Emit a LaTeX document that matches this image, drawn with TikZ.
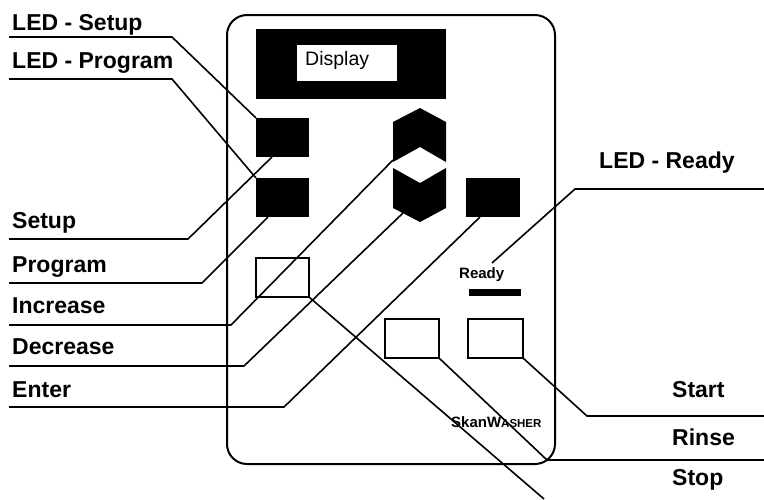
\documentclass[tikz,border=0pt]{standalone}
\usepackage{fontspec}
\setmainfont{Liberation Sans}
\begin{document}
\begin{tikzpicture}[x=1pt,y=-1pt,
  lbl/.style={anchor=base west,inner sep=0pt,font=\bfseries\fontsize{23}{27}\selectfont},
  blk/.style={fill=black,inner sep=0pt,outer sep=0pt,anchor=north west},
  btn/.style={draw,line width=1.6pt,fill=white,inner sep=0pt,outer sep=0pt,anchor=north west},
  wire/.style={line width=1.6pt,line join=miter},
  arrowkey/.style={fill=black}]
\useasboundingbox (0,0) rectangle (764,499);
% housing
\node[draw,line width=2pt,rounded corners=20pt,minimum width=328pt,minimum height=449pt,anchor=north west,inner sep=0pt] (frame) at (226,14) {};
% display
\node[blk,minimum width=190pt,minimum height=70pt] (disp) at (256,29) {};
\node[fill=white,inner sep=0pt,minimum width=100pt,minimum height=36pt,anchor=north west] (dispwin) at (297,45) {};
\node[anchor=base west,inner sep=0pt,font=\fontsize{19.5}{22}\selectfont] (disptxt) at (305,65) {Display};
% LEDs
\node[blk,minimum width=53pt,minimum height=39pt] (ledsetup) at (256,118) {};
\node[blk,minimum width=53pt,minimum height=39pt] (ledprog) at (256,178) {};
\node[blk,minimum width=54pt,minimum height=39pt] (enter) at (466,178) {};
% buttons
\node[btn,minimum width=53pt,minimum height=39pt] (setupbtn) at (256,258) {};
\node[btn,minimum width=54pt,minimum height=39pt] (rinsebtn) at (385,319) {};
\node[btn,minimum width=55pt,minimum height=39pt] (startbtn) at (468,319) {};
% arrow keys
\fill[arrowkey] (393,122) -- (420,108) -- (446,122) -- (446,162) -- (420,147) -- (393,162) -- cycle;
\fill[arrowkey] (393,168) -- (420,183) -- (446,168) -- (446,208) -- (420,222) -- (393,208) -- cycle;
\coordinate (upkey) at (393,160);
\coordinate (downkey) at (403,213);
% ready
\node[anchor=base west,inner sep=0pt,font=\bfseries\fontsize{15}{18}\selectfont] (readytxt) at (459,278) {Ready};
\node[blk,minimum width=52pt,minimum height=7pt] (readybar) at (469,289) {};
\coordinate (readytop) at (492,263);
% brand
\node[anchor=base west,inner sep=0pt] (brand) at (451,427) {\bfseries\fontsize{15}{18}\selectfont SkanW\fontsize{11.5}{14}\selectfont ASHER};
% labels
\node[lbl] (tledsetup) at (12,30) {LED - Setup};
\node[lbl] (tledprog) at (12,68) {LED - Program};
\node[lbl] (tsetup) at (12,228) {Setup};
\node[lbl] (tprog) at (12,272) {Program};
\node[lbl] (tinc) at (12,313) {Increase};
\node[lbl] (tdec) at (12,354) {Decrease};
\node[lbl] (tenter) at (12,397) {Enter};
\node[lbl] (tledready) at (599,168) {LED - Ready};
\node[lbl] (tstart) at (672,397) {Start};
\node[lbl] (trinse) at (672,445) {Rinse};
\node[lbl] (tstop) at (672,485) {Stop};
% line start/elbow coordinates
\coordinate (a0) at (9,37);   \coordinate (a1) at (172,37);
\coordinate (b0) at (9,79);   \coordinate (b1) at (172,79);
\coordinate (c0) at (9,239);  \coordinate (c1) at (188,239);
\coordinate (d0) at (9,283);  \coordinate (d1) at (202,283);
\coordinate (e0) at (9,325);  \coordinate (e1) at (231,325);
\coordinate (f0) at (9,366);  \coordinate (f1) at (244,366);
\coordinate (g0) at (9,407);  \coordinate (g1) at (284,407);
\coordinate (h0) at (764,189); \coordinate (h1) at (575,189);
\coordinate (i0) at (764,416); \coordinate (i1) at (587,416);
\coordinate (j0) at (764,460); \coordinate (j1) at (547,460);
\coordinate (k1) at (544,499);
\coordinate (ledsetupb) at (272,157);
\coordinate (ledprogb) at (268,217);
\coordinate (enterb) at (480,217);
% connectors
\draw[wire] (a0) -- (a1) -- (ledsetup.north west);
\draw[wire] (b0) -- (b1) -- (ledprog.north west);
\draw[wire] (c0) -- (c1) -- (ledsetupb);
\draw[wire] (d0) -- (d1) -- (ledprogb);
\draw[wire] (e0) -- (e1) -- (upkey);
\draw[wire] (f0) -- (f1) -- (downkey);
\draw[wire] (g0) -- (g1) -- (enterb);
\draw[wire] (h0) -- (h1) -- (readytop);
\draw[wire] (i0) -- (i1) -- (startbtn.south east);
\draw[wire] (j0) -- (j1) -- (rinsebtn.south east);
\draw[wire] (setupbtn.south east) -- (k1);
\end{tikzpicture}
\end{document}
